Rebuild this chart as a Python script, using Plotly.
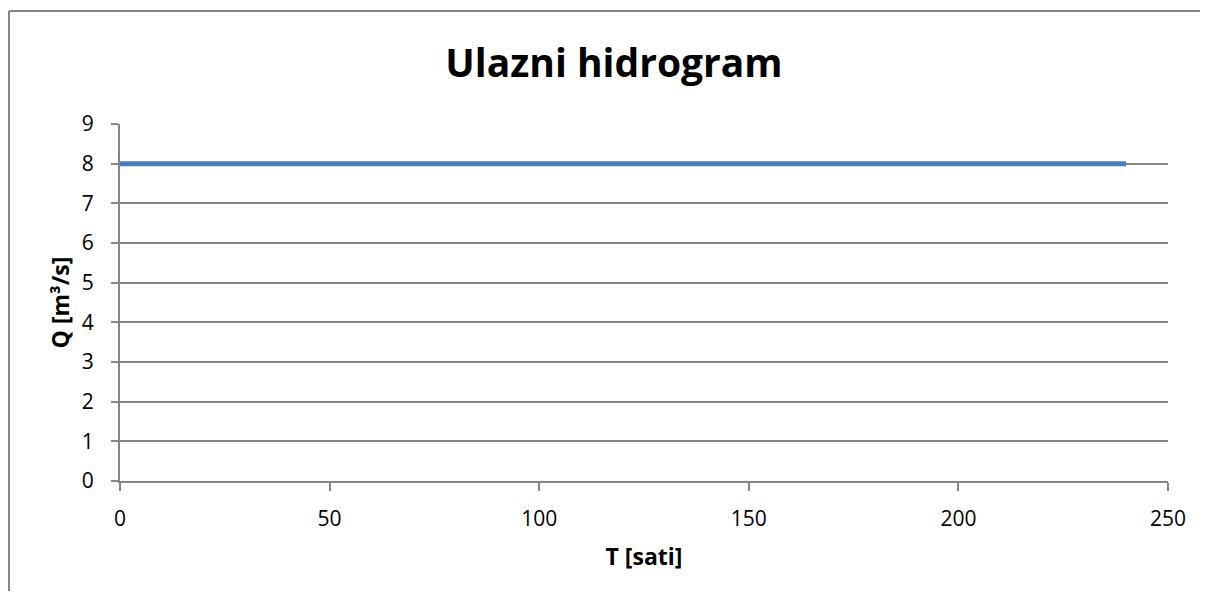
import plotly.graph_objects as go

# Data
T_hours = [0, 240]
Q_values = [8, 8]
x_ticks = [0, 50, 100, 150, 200, 250]
y_ticks = [0, 1, 2, 3, 4, 5, 6, 7, 8, 9]

# The page has an 8px body margin, so the figure is sized to fit inside it
OFF = 8
W, H = 1208 - 2 * OFF, 599 - 2 * OFF
L = 120 - OFF
R = W - (1168 - OFF)
TOP = 124 - OFF
B = H - (481 - OFF)
pw = W - L - R
ph = H - TOP - B

def px(x_page):
    return (x_page - OFF - L) / pw

def py(y_page):
    return (H - B - (y_page - OFF)) / ph

fig = go.Figure()
fig.add_trace(go.Scatter(x=T_hours, y=Q_values, mode="lines",
                         line=dict(color="#4A7EBB", width=5), showlegend=False))

font_family = "Open Sans, Liberation Sans, sans-serif"

fig.update_layout(
    width=W, height=H,
    margin=dict(l=L, r=R, t=TOP, b=B),
    paper_bgcolor="white", plot_bgcolor="white",
    title=dict(text="<b>Ulazni hidrogram</b>", x=(614 - OFF) / W, xanchor="center",
               y=1 - (63 - OFF) / H, yanchor="middle",
               font=dict(family=font_family, size=39, color="black")),
    xaxis=dict(range=[0, 250], tickvals=x_ticks, showgrid=False, zeroline=False,
               showline=True, linecolor="#868686", linewidth=2,
               ticks="outside", ticklen=8, tickcolor="#868686", tickwidth=2,
               tickfont=dict(family=font_family, size=21, color="black"),
               ticklabelstandoff=10,
               title=dict(text="<b>T [sati]</b>", standoff=18,
                          font=dict(family=font_family, size=23, color="black"))),
    yaxis=dict(range=[0, 9], tickvals=y_ticks, showgrid=True, gridcolor="#868686", gridwidth=1.5,
               zeroline=False, showline=True, linecolor="#868686", linewidth=2,
               ticks="outside", ticklen=7, tickcolor="#868686", tickwidth=2,
               tickfont=dict(family=font_family, size=21, color="black"),
               ticklabelstandoff=13,
               title=dict(text="<b>Q [m³/s]</b>", standoff=6,
                          font=dict(family=font_family, size=23, color="black"))),
)

# Outer chart border (left and top visible)
fig.add_shape(type="line", xref="paper", yref="paper",
              x0=px(9), x1=px(9), y0=py(11), y1=py(OFF + H),
              line=dict(color="#868686", width=2))
fig.add_shape(type="line", xref="paper", yref="paper",
              x0=px(9), x1=px(OFF + W), y0=py(11), y1=py(11),
              line=dict(color="#868686", width=2))

fig.write_html("out.html")
